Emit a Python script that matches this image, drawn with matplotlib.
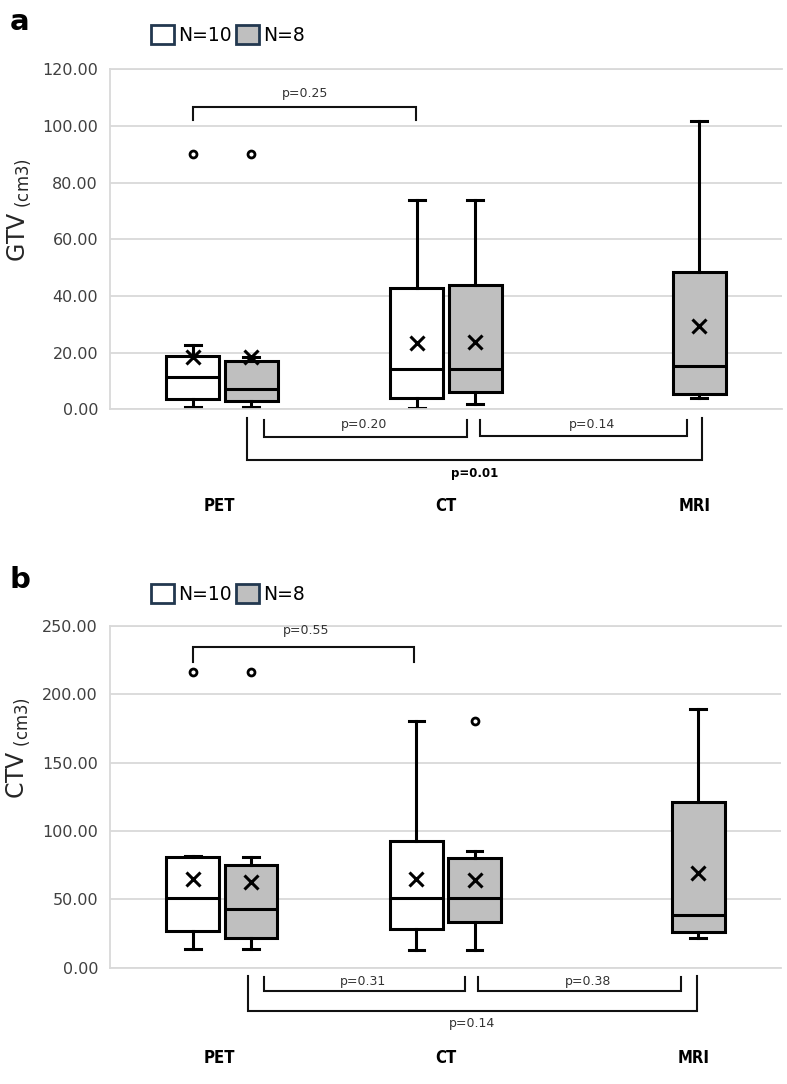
import numpy as np
import matplotlib
matplotlib.use("Agg")
import matplotlib.pyplot as plt
from matplotlib.patches import Patch

plt.rcParams['font.family'] = ['DejaVu Sans']
plt.rcParams['mathtext.fontset'] = 'dejavusans'

# ---- data ----
categories = ["PET", "CT", "MRI"]

# GTV, N=10 (white): PET, CT
gtv10_low = [0.9, 0.6]
gtv10_q1 = [3.7, 4.1]
gtv10_med = [11.3, 14.2]
gtv10_q3 = [18.8, 42.7]
gtv10_high = [22.6, 73.9]
gtv10_mean = [18.3, 23.3]
gtv10_out = [[90.2], []]

# GTV, N=8 (grey): PET, CT, MRI
gtv8_low = [0.9, 1.9, 3.9]
gtv8_q1 = [3.0, 6.2, 5.3]
gtv8_med = [7.3, 14.2, 15.4]
gtv8_q3 = [17.2, 43.9, 48.3]
gtv8_high = [18.4, 73.9, 101.7]
gtv8_mean = [18.3, 23.9, 29.4]
gtv8_out = [[90.2], [], []]

# CTV, N=10 (white): PET, CT
ctv10_low = [13.5, 12.7]
ctv10_q1 = [26.8, 28.3]
ctv10_med = [50.8, 50.8]
ctv10_q3 = [81.2, 92.9]
ctv10_high = [81.7, 180.5]
ctv10_mean = [64.9, 64.9]
ctv10_out = [[216.1], []]

# CTV, N=8 (grey): PET, CT, MRI
ctv8_low = [13.5, 12.7, 21.9]
ctv8_q1 = [21.9, 33.7, 25.9]
ctv8_med = [43.2, 50.8, 38.5]
ctv8_q3 = [74.9, 80.5, 121.4]
ctv8_high = [80.8, 85.6, 189.2]
ctv8_mean = [62.5, 64.5, 69.0]
ctv8_out = [[216.1], [180.5], []]

W, H = 787, 1084
fig = plt.figure(figsize=(W / 100, H / 100), dpi=100)

grid_c = "#d9d9d9"
tick_c = "#404040"
fill_grey = "#bfbfbf"
off = 0.13
bw = 0.236


def make_stats(low, q1, med, q3, high, mean, out):
    st = []
    for i in range(len(med)):
        st.append(dict(whislo=low[i], q1=q1[i], med=med[i], q3=q3[i],
                       whishi=high[i], mean=mean[i], fliers=np.array(out[i])))
    return st


def draw_boxes(ax, stats, pos, face):
    lw = 2.2
    ax.bxp(stats, positions=pos, widths=bw, patch_artist=True, showmeans=True,
           capwidths=0.07, manage_ticks=False,
           boxprops=dict(facecolor=face, edgecolor="black", linewidth=lw),
           medianprops=dict(color="black", linewidth=lw),
           whiskerprops=dict(color="black", linewidth=lw),
           capprops=dict(color="black", linewidth=lw),
           meanprops=dict(marker="x", markeredgecolor="black", markersize=10,
                          markeredgewidth=2.2),
           flierprops=dict(marker="o", markerfacecolor="white",
                           markeredgecolor="black", markersize=5,
                           markeredgewidth=2))


def bracket(ax, x0, x1, ybar, yend, label, tx, ty, bold=False):
    ax.plot([x0, x0, x1, x1], [yend, ybar, ybar, yend], color="#111111",
            lw=1.5, clip_on=False, solid_joinstyle="miter")
    if bold:
        ax.text(tx, ty, label, ha="center", va="center", fontsize=8.5,
                fontweight="bold", color="black")
    else:
        ax.text(tx, ty, label, ha="center", va="center", fontsize=9,
                color="#333333")


def setup(ax, ymax, step):
    ax.set_xlim(-0.5, 2.5)
    ax.set_ylim(0, ymax)
    ax.set_yticks(np.arange(0, ymax + 1, step))
    ax.set_yticklabels(["%.2f" % v for v in np.arange(0, ymax + 1, step)])
    ax.set_xticks([])
    ax.tick_params(axis="y", length=0, pad=8.6, labelsize=11.5,
                   labelcolor=tick_c)
    ax.grid(axis="y", color=grid_c, lw=1.3)
    ax.set_axisbelow(True)
    for s in ["top", "bottom", "left"]:
        ax.spines[s].set_color(grid_c)
        ax.spines[s].set_linewidth(1.3)
    ax.spines["right"].set_visible(False)


def legend(ax, ytop):
    h = [Patch(facecolor="white", edgecolor="#22384f", linewidth=2),
         Patch(facecolor=fill_grey, edgecolor="#22384f", linewidth=2)]
    ax.legend(h, ["N=10", "N=8"], loc="upper left",
              bbox_to_anchor=(151 / W, 1 - ytop / H),
              bbox_transform=fig.transFigure, ncol=2, frameon=False,
              fontsize=13.5, handlelength=1.25, handleheight=1.15,
              handletextpad=0.2, columnspacing=0.2, borderpad=0,
              borderaxespad=0)


def cat_labels(ax, y):
    for x, c in zip([-0.01, 1.0, 2.11], categories):
        ax.text(x, y, c, ha="center", va="center", fontsize=12,
                fontweight="bold", stretch="condensed", color="black",
                clip_on=False)


x_cat = np.arange(len(categories))

# ---- panel a: GTV ----
ax1 = fig.add_axes([110 / W, 1 - 409.3 / H, 672 / W, 340 / H])
setup(ax1, 120, 20)
draw_boxes(ax1, make_stats(gtv10_low, gtv10_q1, gtv10_med, gtv10_q3,
                           gtv10_high, gtv10_mean, gtv10_out),
           x_cat[:2] - off, "white")
draw_boxes(ax1, make_stats(gtv8_low, gtv8_q1, gtv8_med, gtv8_q3,
                           gtv8_high, gtv8_mean, gtv8_out),
           x_cat + off, fill_grey)
bracket(ax1, -0.128, 0.866, 106.6, 102.1, "p=0.25", 0.37, 111.4)
bracket(ax1, 0.1875, 1.094, -9.7, -3.7, "p=0.20", 0.635, -5.4)
bracket(ax1, 1.154, 2.075, -9.3, -3.7, "p=0.14", 1.651, -5.4)
bracket(ax1, 0.111, 2.143, -17.8, -3.1, "p=0.01", 1.13, -22.7, bold=True)
cat_labels(ax1, -34.1)
legend(ax1, 25)
fig.text(19 / W, 1 - 210 / H, r"GTV$_{\mathregular{\ (cm3)}}$", rotation=90,
         ha="center", va="center", fontsize=17, color="#262626")
fig.text(20 / W, 1 - 22 / H, "a", ha="center", va="center", fontsize=21,
         fontweight="bold")

# ---- panel b: CTV ----
ax2 = fig.add_axes([110 / W, 1 - 967.7 / H, 671 / W, 341.7 / H])
setup(ax2, 250, 50)
draw_boxes(ax2, make_stats(ctv10_low, ctv10_q1, ctv10_med, ctv10_q3,
                           ctv10_high, ctv10_mean, ctv10_out),
           x_cat[:2] - off, "white")
draw_boxes(ax2, make_stats(ctv8_low, ctv8_q1, ctv8_med, ctv8_q3,
                           ctv8_high, ctv8_mean, ctv8_out),
           x_cat + off, fill_grey)
bracket(ax2, -0.128, 0.859, 234.4, 223.8, "p=0.55", 0.375, 247.0)
bracket(ax2, 0.19, 1.087, -16.8, -6.8, "p=0.31", 0.631, -10.2)
bracket(ax2, 1.144, 2.053, -16.8, -6.8, "p=0.38", 1.638, -10.2)
bracket(ax2, 0.116, 2.123, -31.5, -6.1, "p=0.14", 1.12, -40.5)
cat_labels(ax2, -66.1)
legend(ax2, 584)
fig.text(18 / W, 1 - 748 / H, r"CTV$_{\mathregular{\ (cm3)}}$", rotation=90,
         ha="center", va="center", fontsize=17, color="#262626")
fig.text(20 / W, 1 - 580 / H, "b", ha="center", va="center", fontsize=21,
         fontweight="bold")

fig.savefig("out.png", dpi=100)
